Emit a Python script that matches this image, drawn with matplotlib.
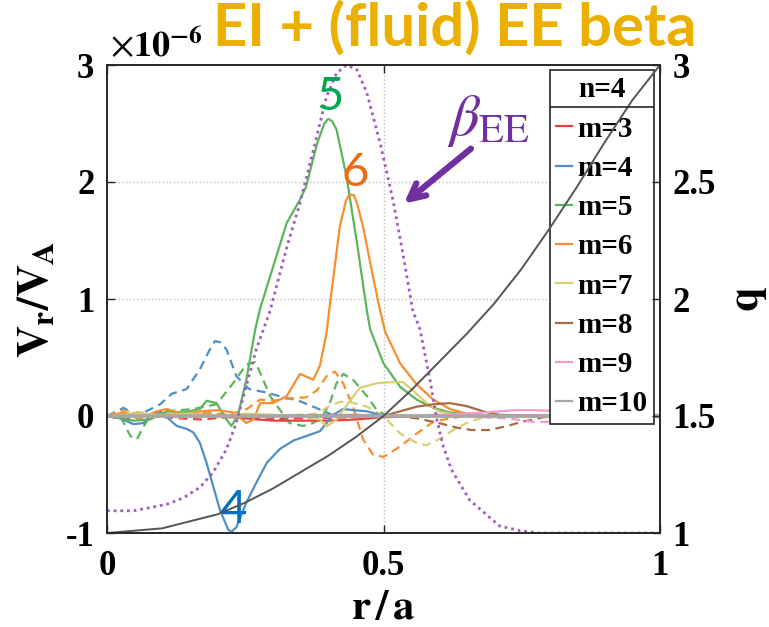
import matplotlib
matplotlib.use("Agg")
import matplotlib.pyplot as plt
from matplotlib.lines import Line2D

plt.rcParams['axes.unicode_minus'] = False
plt.rcParams['mathtext.fontset'] = 'stix'
plt.rcParams['font.family'] = 'Liberation Serif'

# ---- data (V in units of 1e-6) ----
m_labels = ['m=3', 'm=4', 'm=5', 'm=6', 'm=7', 'm=8', 'm=9', 'm=10']
m_colors = ['#e8423f', '#4f8fc6', '#5cb55a', '#f78f2e',
            '#d8cf73', '#a86a45', '#f39bd0', '#a8a8a8']

# solid curves
r3 = [0, 0.05, 0.1, 0.15, 0.2, 0.25, 0.3, 0.35, 0.4, 0.45, 0.5, 0.6, 0.7, 0.8, 0.9, 1.0]
v3 = [0.0, 0.02, 0.01, 0.02, 0.0, -0.02, -0.04, -0.04, -0.04, -0.03, -0.01, 0.0, 0.0, 0.0, 0.0, 0.0]
r4 = [0, 0.024, 0.048, 0.066, 0.078, 0.096, 0.108, 0.126, 0.144, 0.156, 0.168, 0.18, 0.192,
      0.204, 0.219, 0.225, 0.234, 0.252, 0.27, 0.289, 0.313, 0.337, 0.361, 0.385, 0.397,
      0.409, 0.427, 0.445, 0.47, 0.494, 0.52, 0.6, 1.0]
v4 = [0, -0.02, -0.07, -0.06, 0.0, 0.04, -0.01, -0.085, -0.11, -0.14, -0.23, -0.4, -0.6,
      -0.8, -0.97, -0.99, -0.95, -0.74, -0.57, -0.4, -0.28, -0.21, -0.17, -0.13, -0.06,
      0.01, 0.06, 0.05, 0.04, 0.01, 0.0, 0.0, 0.0]
r5 = [0, 0.024, 0.048, 0.078, 0.108, 0.138, 0.168, 0.18, 0.198, 0.216, 0.225, 0.237, 0.252,
      0.268, 0.277, 0.30, 0.325, 0.349, 0.36, 0.38, 0.393, 0.40, 0.407, 0.415, 0.433, 0.452,
      0.47, 0.476, 0.50, 0.53, 0.56, 0.59, 0.62, 0.7, 1.0]
v5 = [0, -0.02, -0.04, -0.03, 0.04, 0.03, 0.06, 0.13, 0.11, -0.03, -0.085, 0.01, 0.31,
      0.74, 0.92, 1.27, 1.65, 1.85, 1.96, 2.33, 2.5, 2.54, 2.52, 2.45, 2.05, 1.48,
      0.9, 0.74, 0.45, 0.25, 0.14, 0.07, 0.03, 0.0, 0.0]
r6 = [0, 0.03, 0.06, 0.09, 0.108, 0.14, 0.168, 0.2, 0.228, 0.252, 0.265, 0.277, 0.30, 0.325,
      0.349, 0.373, 0.385, 0.397, 0.403, 0.421, 0.432, 0.438, 0.446, 0.452, 0.463, 0.481,
      0.494, 0.503, 0.53, 0.56, 0.59, 0.62, 0.65, 0.7, 1.0]
v6 = [0, 0.03, -0.02, 0.04, 0.06, 0.01, 0.04, 0.05, 0.03, -0.06, -0.03, 0.11, 0.11, 0.17,
      0.36, 0.31, 0.43, 0.71, 0.95, 1.62, 1.84, 1.89, 1.89, 1.82, 1.62, 1.19,
      0.9, 0.72, 0.45, 0.27, 0.14, 0.06, 0.02, 0.0, 0.0]
r7 = [0, 0.05, 0.1, 0.15, 0.2, 0.25, 0.3, 0.35, 0.385, 0.397, 0.415, 0.433, 0.457, 0.488,
      0.517, 0.535, 0.553, 0.578, 0.60, 0.63, 0.7, 1.0]
v7 = [0, 0.02, 0.01, 0.02, 0.0, 0.02, 0.01, 0.0, -0.03, -0.09, -0.03, 0.09, 0.24, 0.28,
      0.29, 0.29, 0.22, 0.11, 0.04, 0.01, 0.0, 0.0]
r8 = [0, 0.3, 0.45, 0.5, 0.53, 0.56, 0.59, 0.62, 0.65, 0.68, 0.71, 0.8, 1.0]
v8 = [0, 0, 0.01, 0.0, 0.04, 0.08, 0.1, 0.11, 0.085, 0.04, 0.01, 0.0, 0.0]
r9 = [0, 0.5, 0.6, 0.65, 0.71, 0.74, 0.77, 0.80, 0.85, 0.9, 1.0]
v9 = [0, 0, 0.01, 0.02, 0.04, 0.05, 0.05, 0.045, 0.03, 0.02, 0.01]
r10 = [0, 0.25, 0.5, 0.75, 1.0]
v10 = [0, 0, 0, 0, 0]

# dashed curves
r3d = [0, 0.03, 0.08, 0.13, 0.17, 0.22, 0.28, 0.35, 0.45, 0.55, 0.7, 1.0]
v3d = [0, -0.03, 0.0, -0.02, -0.03, -0.01, -0.03, -0.02, -0.01, 0, 0, 0]
r4d = [0, 0.03, 0.054, 0.075, 0.096, 0.117, 0.144, 0.168, 0.185, 0.195, 0.205, 0.216, 0.234,
       0.257, 0.289, 0.311, 0.347, 0.383, 0.407, 0.45, 0.5, 1.0]
v4d = [0, 0.07, 0.0, 0.05, 0.1, 0.19, 0.23, 0.40, 0.56, 0.64, 0.63, 0.57, 0.34,
       0.23, 0.2, 0.17, 0.13, 0.06, 0.01, 0.0, 0.0, 0.0]
r5d = [0, 0.024, 0.042, 0.054, 0.066, 0.078, 0.108, 0.156, 0.198, 0.228, 0.252, 0.268, 0.277,
       0.295, 0.313, 0.33, 0.355, 0.373, 0.39, 0.403, 0.415, 0.427, 0.445, 0.47, 0.488, 0.506,
       0.6, 1.0]
v5d = [0, 0.0, -0.17, -0.2, -0.09, 0.0, 0.04, 0.06, 0.1, 0.28, 0.44, 0.46, 0.37,
       0.17, 0.05, -0.06, -0.085, -0.06, 0.0, 0.11, 0.28, 0.36, 0.31, 0.17, 0.05, 0.0,
       0.0, 0.0]
r6d = [0, 0.03, 0.06, 0.1, 0.14, 0.18, 0.22, 0.253, 0.277, 0.30, 0.33, 0.36, 0.38, 0.397,
       0.412, 0.427, 0.445, 0.463, 0.481, 0.50, 0.53, 0.56, 0.59, 0.62, 0.65, 1.0]
v6d = [0, 0.05, -0.03, 0.02, -0.02, 0.03, 0.01, 0.06, 0.14, 0.13, 0.15, 0.16, 0.22, 0.34,
       0.38, 0.28, 0.08, -0.2, -0.33, -0.35, -0.26, -0.15, -0.05, -0.02, 0.0, 0.0]
r7d = [0, 0.04, 0.08, 0.12, 0.2, 0.3, 0.38, 0.40, 0.421, 0.439, 0.47, 0.50, 0.53, 0.56,
       0.578, 0.60, 0.626, 0.65, 0.675, 0.72, 1.0]
v7d = [0, 0.04, 0.02, 0.0, 0.0, 0.0, 0.02, 0.08, 0.12, 0.12, 0.08, 0.0, -0.15, -0.23,
       -0.25, -0.2, -0.12, -0.06, -0.02, 0.0, 0.0]
r8d = [0, 0.3, 0.45, 0.5, 0.56, 0.60, 0.633, 0.66, 0.69, 0.72, 0.75, 0.79, 0.85, 1.0]
v8d = [0, -0.01, 0.0, 0.01, -0.02, -0.06, -0.1, -0.12, -0.12, -0.09, -0.05, -0.01, 0.0, 0.0]
r9d = [0, 0.6, 0.68, 0.72, 0.74, 0.77, 0.8, 0.85, 0.9, 1.0]
v9d = [0, 0, -0.01, -0.02, -0.03, -0.05, -0.05, -0.04, -0.02, -0.01]
r10d = [0, 0.5, 1.0]
v10d = [0, 0, 0]

# beta_EE profile (drawn in left-axis units)
r_beta = [0, 0.048, 0.108, 0.138, 0.168, 0.192, 0.216, 0.234, 0.252, 0.27, 0.295, 0.325,
          0.349, 0.373, 0.397, 0.415, 0.433, 0.452, 0.47, 0.494, 0.517, 0.535, 0.553, 0.566,
          0.584, 0.596, 0.608, 0.623, 0.656, 0.71, 0.747, 0.78, 1.0]
v_beta = [-0.81, -0.81, -0.755, -0.70, -0.61, -0.48, -0.285, -0.057, 0.26, 0.57, 0.9, 1.44,
          1.82, 2.27, 2.73, 2.93, 3.0, 2.96, 2.76, 2.33, 1.85, 1.39, 0.9, 0.74,
          0.31, -0.02, -0.26, -0.46, -0.72, -0.94, -0.98, -1.0, -1.0]

# safety factor q (right axis)
r_q = [0, 0.1, 0.2, 0.25, 0.3, 0.35, 0.4, 0.45, 0.5, 0.55, 0.6, 0.65,
       0.7, 0.75, 0.8, 0.85, 0.9, 0.95, 1.0]
q_vals = [1.0, 1.02, 1.08, 1.13, 1.19, 1.26, 1.33, 1.41, 1.5, 1.61, 1.73, 1.85,
          1.98, 2.13, 2.3, 2.48, 2.67, 2.85, 3.0]

solid_r = [r3, r4, r5, r6, r7, r8, r9, r10]
solid_v = [v3, v4, v5, v6, v7, v8, v9, v10]
dash_r = [r3d, r4d, r5d, r6d, r7d, r8d, r9d, r10d]
dash_v = [v3d, v4d, v5d, v6d, v7d, v8d, v9d, v10d]

xticks = [0, 0.5, 1]
yticks = [-1, 0, 1, 2, 3]
qticks = [1, 1.5, 2, 2.5, 3]

spine_col = '#262626'

fig = plt.figure(figsize=(7.69, 6.27), dpi=100)
ax = fig.add_axes([107 / 769, (627 - 533) / 627, 553 / 769, 468 / 627])

ax.grid(True, linestyle=':', color='#bdbdbd', linewidth=1.0)
ax.set_axisbelow(True)

# dashed first, then solid
for rr, vv, c in zip(dash_r, dash_v, m_colors):
    ax.plot(rr, vv, color=c, lw=1.6, linestyle=(0, (4, 2.5)))
handles = []
for rr, vv, c, lab in zip(solid_r, solid_v, m_colors, m_labels):
    lw = 2.6 if lab == 'm=10' else 1.6
    ax.plot(rr, vv, color=c, lw=lw)
    handles.append(Line2D([0], [0], color=c, lw=1.6))

ax.plot(r_beta, v_beta, color='#a05cc0', lw=2.0, linestyle=(0, (1, 1.4)))

ax.set_xlim(0, 1)
ax.set_ylim(-1, 3)
ax.set_xticks(xticks)
ax.set_xticklabels(['0', '0.5', '1'])
ax.set_yticks(yticks)
ax.set_yticklabels([str(t) for t in yticks])
ax.tick_params(axis='both', direction='in', length=6, width=1, color=spine_col,
               top=True, right=False, labelsize=25)
ax.tick_params(axis='x', pad=12)
ax.tick_params(axis='y', pad=9)
for s in ax.spines.values():
    s.set_color(spine_col)
    s.set_linewidth(1.2)

ax.set_xlabel(r'$\mathbf{r\,/\,a}$', fontsize=31)
ax.xaxis.set_label_coords(0.5, -0.12)
ax.set_ylabel(r'$\mathbf{V_r/V_A}$', fontsize=32)
ax.yaxis.set_label_coords(-0.09, 0.5)

ax.text(0.005, 1.017, r'$\times\mathbf{10}^{\mathbf{-6}}$', transform=ax.transAxes,
        fontsize=26, ha='left', va='baseline')

# legend with title and separator
leg = ax.legend(handles, m_labels, title='n=4', loc='upper left',
                bbox_to_anchor=(550 / 769, 1 - 70 / 627), bbox_transform=fig.transFigure,
                borderaxespad=0, borderpad=0.22, handlelength=0.55, handletextpad=0.18,
                labelspacing=0.42, fancybox=False, framealpha=1, edgecolor=spine_col,
                prop={'family': 'Liberation Serif', 'weight': 'bold', 'size': 21},
                title_fontproperties={'family': 'Liberation Serif', 'weight': 'bold', 'size': 21})
leg.get_frame().set_linewidth(1.2)

# annotations
ax.text(0.403, 2.73, '5', color='#00a651', fontsize=34, family='Lato',
        ha='center', va='center')
ax.text(0.449, 2.08, '6', color='#f06a10', fontsize=34, family='Lato',
        ha='center', va='center')
ax.text(0.228, -0.80, '4', color='#0070c0', fontsize=34, family='Lato',
        ha='center', va='center')
ax.text(0.69, 2.52, r'$\beta_{\mathrm{EE}}$', color='#7030a0', fontsize=42,
        ha='center', va='center')
ax.annotate('', xy=(0.533, 1.80), xytext=(0.662, 2.30),
            arrowprops=dict(arrowstyle='->', lw=4.5, color='#7030a0', mutation_scale=28))

# right axis: q
ax2 = ax.twinx()
ax2.plot(r_q, q_vals, color='#555555', lw=1.4)
ax2.set_ylim(1, 3)
ax2.set_yticks(qticks)
ax2.set_yticklabels(['1', '1.5', '2', '2.5', '3'])
ax2.tick_params(axis='y', direction='in', length=6, width=1, color=spine_col,
                labelsize=25, pad=9)
for s in ax2.spines.values():
    s.set_color(spine_col)
    s.set_linewidth(1.2)
ax2.set_ylabel(r'$\mathbf{q}$', fontsize=32, rotation=90)
ax2.yaxis.set_label_coords(1.124, 0.5)

fig.text(213 / 769, 1 - 47 / 627, 'EI + (fluid) EE beta', color='#ebaf00',
         fontsize=43, family='Lato', fontweight='bold', ha='left', va='baseline')

# bold tick labels (after ticks are final)
fig.canvas.draw()
for lab in ax.get_xticklabels() + ax.get_yticklabels() + ax2.get_yticklabels():
    lab.set_fontweight('bold')

# separator under legend title
renderer = fig.canvas.get_renderer()
lb = leg.get_window_extent(renderer)
tb = leg.get_title().get_window_extent(renderer)
ysep = tb.y0 - 4
fig.add_artist(Line2D([lb.x0, lb.x1], [ysep, ysep], transform=None,
                      color=spine_col, lw=1.2, zorder=leg.get_zorder() + 1))

fig.savefig('out.png', dpi=100)
